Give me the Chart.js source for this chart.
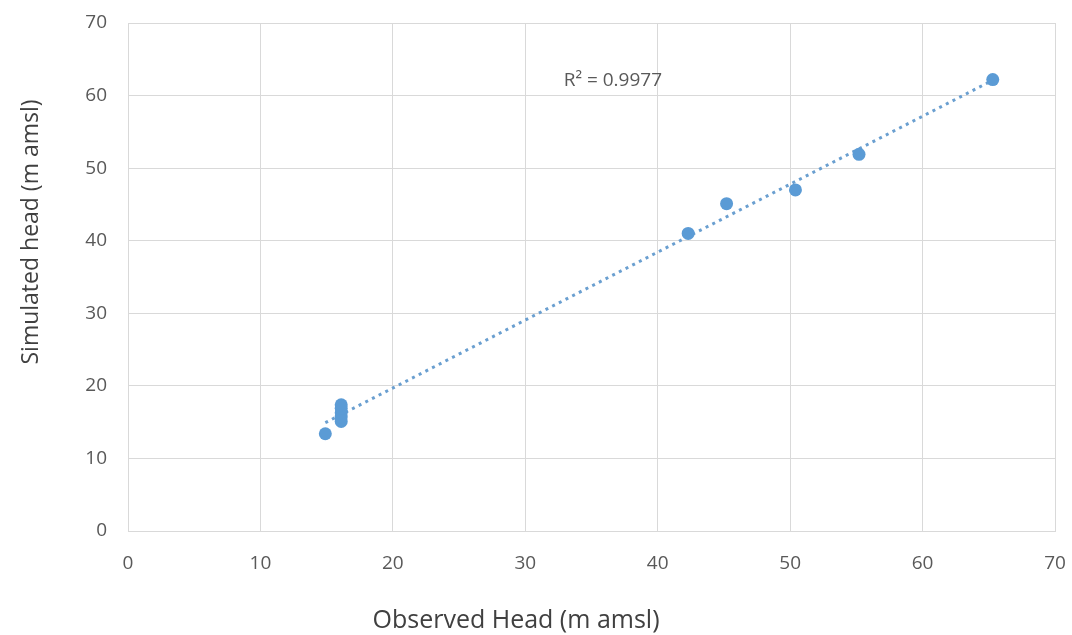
<!DOCTYPE html>
<html>
<head>
<meta charset="utf-8">
<script src="https://cdn.jsdelivr.net/npm/chart.js@4/dist/chart.umd.min.js"></script>
<style>
  html, body { margin: 0; padding: 0; background: #ffffff; }
  #wrap { width: 1072px; height: 635px; position: relative; }
</style>
</head>
<body>
<div id="wrap"><canvas id="c" width="1072" height="635"></canvas></div>
<script>
// Observed vs simulated groundwater heads (m amsl)
const observedHead = [14.9, 16.1, 16.1, 16.1, 16.1, 16.1, 42.3, 45.2, 50.4, 55.2, 65.3];
const simulatedHead = [13.4, 15.1, 15.7, 16.3, 16.9, 17.4, 41.0, 45.1, 47.0, 51.9, 62.2];
const xTicks = [0, 10, 20, 30, 40, 50, 60, 70];
const yTicks = [0, 10, 20, 30, 40, 50, 60, 70];
const rSquaredLabel = 'R² = 0.9977';

const points = observedHead.map((x, i) => ({ x: x, y: simulatedHead[i] }));

// Least-squares linear trendline over the observed range
function linearFit(xs, ys) {
  const n = xs.length;
  let sx = 0, sy = 0, sxx = 0, sxy = 0;
  for (let i = 0; i < n; i++) { sx += xs[i]; sy += ys[i]; sxx += xs[i] * xs[i]; sxy += xs[i] * ys[i]; }
  const slope = (n * sxy - sx * sy) / (n * sxx - sx * sx);
  const intercept = (sy - slope * sx) / n;
  return { slope, intercept };
}
const fit = linearFit(observedHead, simulatedHead);
const xMin = Math.min(...observedHead), xMax = Math.max(...observedHead);
const trend = [xMin, xMax].map(x => ({ x: x, y: fit.slope * x + fit.intercept }));

const BLUE = '#5B9BD5';
const FONT = '"Open Sans", "Liberation Sans", sans-serif';

// Axis titles and the R² note, drawn as text on the canvas
const annotations = {
  id: 'annotations',
  afterDraw(chart) {
    const ctx = chart.ctx;
    const xs = chart.scales.x, ys = chart.scales.y;
    ctx.save();
    ctx.fillStyle = '#595959';
    ctx.font = '19px ' + FONT;
    ctx.textAlign = 'left';
    ctx.textBaseline = 'middle';
    ctx.fillText(rSquaredLabel, xs.getPixelForValue(32.9), ys.getPixelForValue(62.1));

    ctx.fillStyle = '#404040';
    ctx.font = '25px ' + FONT;
    ctx.textAlign = 'center';
    ctx.fillText('Observed Head (m amsl)', 516, 621);
    ctx.font = '23px ' + FONT;
    ctx.translate(31, 232);
    ctx.rotate(-Math.PI / 2);
    ctx.fillText('Simulated head (m amsl)', 0, 0);
    ctx.restore();
  }
};

new Chart(document.getElementById('c'), {
  type: 'scatter',
  data: {
    datasets: [
      {
        label: 'Trendline',
        type: 'line',
        data: trend,
        borderColor: '#6a9fd0',
        borderWidth: 3,
        borderDash: [3, 4.5],
        pointRadius: 0,
        fill: false,
        order: 2
      },
      {
        label: 'Heads',
        data: points,
        backgroundColor: BLUE,
        borderColor: BLUE,
        pointRadius: 6.5,
        pointBorderWidth: 0,
        order: 1
      }
    ]
  },
  options: {
    responsive: false,
    animation: false,
    devicePixelRatio: 1,
    layout: { padding: { left: 0, right: 17, top: 23, bottom: 0 } },
    plugins: { legend: { display: false }, tooltip: { enabled: false } },
    scales: {
      x: {
        type: 'linear',
        min: 0, max: 70,
        afterBuildTicks(s) { s.ticks = xTicks.map(v => ({ value: v })); },
        afterFit(s) { s.height = 104; s.paddingLeft = 0; s.paddingRight = 0; },
        grid: { color: '#d9d9d9', lineWidth: 1, drawTicks: false },
        border: { color: '#d9d9d9' },
        ticks: { color: '#595959', font: { family: FONT, size: 19 }, padding: 21 }
      },
      y: {
        type: 'linear',
        min: 0, max: 70,
        afterBuildTicks(s) { s.ticks = yTicks.map(v => ({ value: v })); },
        afterFit(s) { s.width = 128; s.paddingTop = 0; s.paddingBottom = 0; },
        grid: { color: '#d9d9d9', lineWidth: 1, drawTicks: false },
        border: { color: '#d9d9d9' },
        ticks: { color: '#595959', font: { family: FONT, size: 19 }, padding: 21 }
      }
    }
  },
  plugins: [annotations]
});
</script>
</body>
</html>
